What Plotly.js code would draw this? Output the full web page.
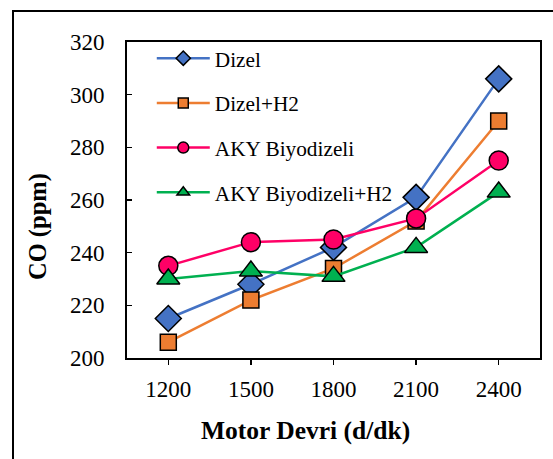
<!DOCTYPE html>
<html><head><meta charset="utf-8">
<script src="https://cdn.plot.ly/plotly-3.0.1.min.js"></script>
<style>
html,body{margin:0;padding:0;background:#fff;overflow:hidden;}
#chart{width:553px;height:459px;position:relative;}
#frame{position:absolute;left:12px;top:10px;width:600px;height:500px;border:2px solid #000;pointer-events:none;box-sizing:border-box;}
</style></head>
<body>
<div id="chart"></div>
<div id="frame"></div>
<script>
const categories = ["1200","1500","1800","2100","2400"];
const dizel = [215, 228, 242, 261, 306];
const dizelH2 = [206, 222, 234, 252, 290];
const aky = [235, 244, 245, 253, 275];
const akyH2 = [230, 233, 231, 242, 263];
const names = ["Dizel","Dizel+H2","AKY Biyodizeli","AKY Biyodizeli+H2"];
const colors = ["#4472C4","#ED7D31","#FF0066","#00B050"];
const symbols = ["diamond","square","circle","triangle-up"];
const sizes = [20,16,19,20];
const legendSizes = [11,10,11,11];
const series = [dizel, dizelH2, aky, akyH2];
const xTitle = "Motor Devri (d/dk)";
const yTitle = "CO (ppm)";

const traces = series.map((ys,i)=>({
  x: categories, y: ys, type:"scatter", mode:"lines+markers", name:names[i],
  showlegend:false,
  line:{color:colors[i], width:2.5},
  marker:{symbol:symbols[i], size:sizes[i], color:colors[i], line:{color:"#000", width:1.5}}
}));
const legendTraces = series.map((ys,i)=>({
  x:[null], y:[null], type:"scatter", mode:"lines+markers", name:names[i],
  legendgroup:"g"+i, showlegend:true,
  line:{color:colors[i], width:2.5},
  marker:{symbol:symbols[i], size:legendSizes[i], color:colors[i], line:{color:"#000", width:1.5}}
}));

const font = "'Liberation Serif', 'Times New Roman', serif";
const layout = {
  width:553, height:459,
  margin:{l:127, r:13, t:42, b:101},
  paper_bgcolor:"#fff", plot_bgcolor:"#fff",
  showlegend:true,
  legend:{x:0.06, y:1.013, xanchor:"left", yanchor:"top", bgcolor:"rgba(0,0,0,0)",
    font:{family:font, size:21.3, color:"#000"}, traceorder:"grouped", tracegroupgap:14,
    itemwidth:53},
  xaxis:{type:"category", range:[-0.5,4.5], showline:true, mirror:true, linecolor:"#000", linewidth:2,
    ticks:"outside", ticklen:5, tickwidth:1.5, tickcolor:"#000", showgrid:false, zeroline:false,
    tickfont:{family:font, size:23, color:"#000"}, ticklabelstandoff:4},
  yaxis:{range:[200,320], dtick:20, showline:true, mirror:true, linecolor:"#000", linewidth:2,
    ticks:"inside", ticklen:5, tickwidth:1.5, tickcolor:"#000", showgrid:false, zeroline:false,
    tickfont:{family:font, size:23, color:"#000"}, ticklabelstandoff:16},
  annotations:[
    {xref:"paper", yref:"paper", x:(305-127)/413, y:(459-101-431)/316, text:"<b>"+xTitle+"</b>",
     showarrow:false, xanchor:"center", yanchor:"middle", font:{family:font, size:25.5, color:"#000"}},
    {xref:"paper", yref:"paper", x:(38-127)/413, y:(358-227)/316, text:"<b>"+yTitle+"</b>", textangle:-90,
     showarrow:false, xanchor:"center", yanchor:"middle", font:{family:font, size:24.5, color:"#000"}}
  ]
};
Plotly.newPlot("chart", traces.concat(legendTraces), layout, {displayModeBar:false, staticPlot:true});
</script>
</body></html>
